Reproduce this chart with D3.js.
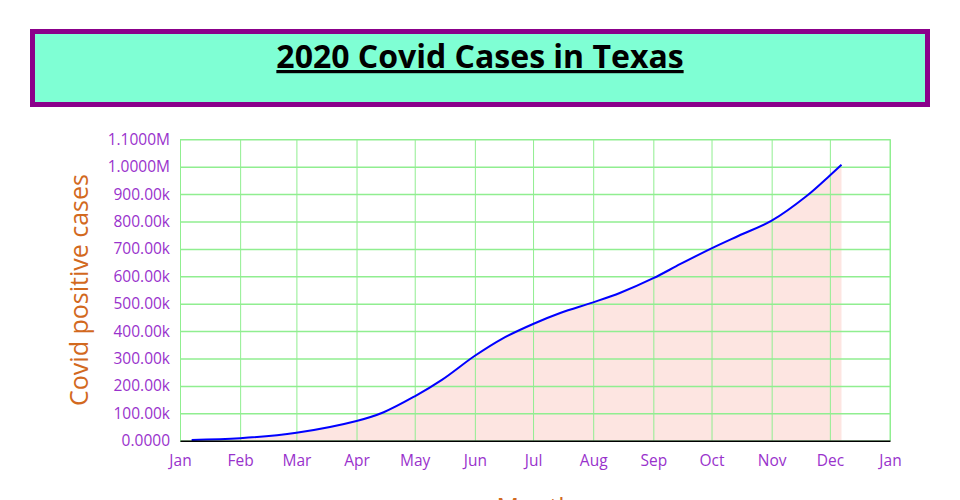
<!DOCTYPE html>
<html>
<head>
<meta charset="utf-8">
<script src="https://d3js.org/d3.v7.min.js"></script>
<style>
  html, body { margin: 0; padding: 0; background: #fff; }
  svg { display: block; font-family: "Open Sans", sans-serif; }
</style>
</head>
<body>
<svg id="chart" width="960" height="500"></svg>
<script>
// ---- data ----
const titleText = "2020 Covid Cases in Texas";
const yLabel = "Covid positive cases";
const xLabel = "Month";
const dates = ["2020-01-07","2020-02-01","2020-03-01","2020-04-01","2020-04-15","2020-05-01",
  "2020-05-15","2020-06-01","2020-06-15","2020-07-01","2020-07-15","2020-08-01","2020-08-15",
  "2020-09-01","2020-09-15","2020-10-01","2020-10-15","2020-11-01","2020-11-19",
  "2020-12-01","2020-12-07"];
const cases = [3000, 9000, 29000, 72000, 104000, 162000,
  222000, 310000, 372000, 426000, 466000, 505000, 540000,
  593000, 645000, 702000, 748000, 803000, 893000,
  968000, 1007000];
const yTicks = [0,100000,200000,300000,400000,500000,600000,700000,800000,900000,1000000,1100000];
const xDomain = ["2020-01-01","2021-01-01"];

// ---- layout ----
const svg = d3.select("#chart");
const parse = d3.timeParse("%Y-%m-%d");
const data = dates.map((d,i) => ({date: parse(d), value: cases[i]}));

// title box
svg.append("rect").attr("x", 32.5).attr("y", 31.5).attr("width", 895).attr("height", 73)
  .attr("fill", "#7FFFD4").attr("stroke", "#8B008B").attr("stroke-width", 5);
svg.append("text").attr("x", 480).attr("y", 68).attr("text-anchor", "middle")
  .attr("font-size", 32).attr("font-weight", "bold").attr("fill", "#000")
  .attr("text-decoration", "underline").text(titleText);

const pLeft = 180, pRight = 890, pTop = 139.3, pBottom = 440.7;
const x = d3.scaleTime().domain(xDomain.map(parse)).range([pLeft, pRight]);
const y = d3.scaleLinear().domain([0, 1100000]).range([pBottom, pTop]);
const curve = d3.curveCatmullRom.alpha(0.5);

const g = svg.append("g");

// area
g.append("path").datum(data)
  .attr("fill", "#FDE5E1")
  .attr("d", d3.area().x(d => x(d.date)).y0(y(0)).y1(d => y(d.value)).curve(curve));

// grid
const gridColor = "#90EE90";
g.append("g").attr("transform", `translate(0,${pBottom})`)
  .call(d3.axisBottom(x).ticks(d3.timeMonth.every(1)).tickSize(-(pBottom - pTop)).tickFormat(""))
  .call(s => s.select(".domain").remove())
  .call(s => s.selectAll("line").attr("stroke", gridColor).attr("stroke-width", 1));
g.append("g").attr("transform", `translate(${pLeft},0)`)
  .call(d3.axisLeft(y).tickValues(yTicks).tickSize(-(pRight - pLeft)).tickFormat(""))
  .call(s => s.select(".domain").remove())
  .call(s => s.selectAll("line").attr("stroke", gridColor).attr("stroke-width", 1.5));
// right border
g.append("line").attr("x1", pRight).attr("x2", pRight).attr("y1", pTop).attr("y2", pBottom)
  .attr("stroke", gridColor);

// line
g.append("path").datum(data)
  .attr("fill", "none").attr("stroke", "#0000FF").attr("stroke-width", 2)
  .attr("d", d3.line().x(d => x(d.date)).y(d => y(d.value)).curve(curve));

// axes
const labelColor = "#9932CC";
const xAxis = g.append("g").attr("transform", `translate(0,${pBottom})`)
  .call(d3.axisBottom(x).ticks(d3.timeMonth.every(1)).tickFormat(d3.timeFormat("%b")).tickSize(0).tickPadding(14));
xAxis.select(".domain").attr("stroke", "#000").attr("stroke-width", 1.5);
xAxis.selectAll("text").attr("fill", labelColor).attr("font-size", 15.5).attr("font-family", "Open Sans");

const yAxis = g.append("g").attr("transform", `translate(${pLeft},0)`)
  .call(d3.axisLeft(y).tickValues(yTicks).tickFormat(d3.format(".5s")).tickSize(0).tickPadding(10));
yAxis.select(".domain").remove();
yAxis.selectAll("text").attr("fill", labelColor).attr("font-size", 15.5).attr("font-family", "Open Sans");

// axis labels
svg.append("text").attr("transform", `translate(88,${(pTop + pBottom) / 2}) rotate(-90)`)
  .attr("text-anchor", "middle").attr("fill", "#D2691E").attr("font-size", 25).text(yLabel);
svg.append("text").attr("x", (pLeft + pRight) / 2).attr("y", 516).attr("text-anchor", "middle")
  .attr("fill", "#D2691E").attr("font-size", 25).text(xLabel);
</script>
</body>
</html>
